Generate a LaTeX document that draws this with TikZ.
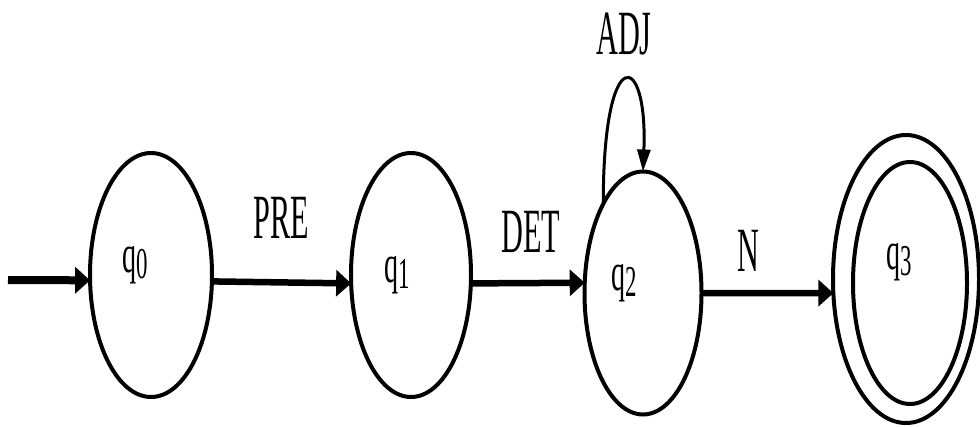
\documentclass[tikz,border=0pt]{standalone}
\usepackage{fontspec}
\setmainfont{Liberation Serif}
\usetikzlibrary{shapes.geometric,arrows.meta}

% condensed transition labels and state names
\newcommand\edgelbl[1]{\scalebox{0.48}[1]{\fontsize{63}{70}\selectfont #1}}
\newcommand\statelbl[1]{\scalebox{0.52}[1]{\fontsize{54}{60}\selectfont q\raisebox{-6pt}{\fontsize{44}{46}\selectfont #1}}}

\tikzset{
  state/.style={ellipse, draw, line width=4pt, inner sep=0pt, outer sep=0pt},
  txt/.style={inner sep=0pt, outer sep=0pt},
  trans/.style={line width=6.5pt, -{Triangle[length=15pt,width=26pt]}},
  loopedge/.style={line width=3pt, -{Triangle[length=22pt,width=13pt]}}
}

\begin{document}
\begin{tikzpicture}[x=1pt,y=-1pt]
\useasboundingbox (0,0) rectangle (980,426);

% states
\node[state, minimum width=122pt, minimum height=244pt] (q0) at (151,275) {};
\node[state, minimum width=120pt, minimum height=244pt] (q1) at (411,275) {};
\node[state, minimum width=117pt, minimum height=243pt] (q2) at (643,293) {};
\node[state, minimum width=146pt, minimum height=288pt] (q3) at (906,279) {};
\node[state, minimum width=114pt, minimum height=242pt] (q3in) at (910,283) {};

% state names
\node[txt] (n0) at (135,265) {\statelbl{0}};
\node[txt] (n1) at (397,275) {\statelbl{1}};
\node[txt] (n2) at (624,283) {\statelbl{2}};
\node[txt] (n3) at (899,262) {\statelbl{3}};

% start arrow
\coordinate (start) at (8,280);
\draw[trans, line width=8pt] (start) -- (q0.185);

% transitions
\draw[trans] (q0.-6) -- (q1.188);
\draw[trans] (q1.-8) -- (q2.170);
\draw[trans] (q2.east) -- (q3.191);
\draw[loopedge] (q2.114) .. controls (603,40) and (648,50) .. (q2.north);

% transition labels
\node[txt] (lpre) at (281,218) {\edgelbl{PRE}};
\node[txt] (ldet) at (531,232) {\edgelbl{DET}};
\node[txt] (ladj) at (624,34) {\edgelbl{ADJ}};
\node[txt] (ln) at (748,251) {\edgelbl{N}};
\end{tikzpicture}
\end{document}
